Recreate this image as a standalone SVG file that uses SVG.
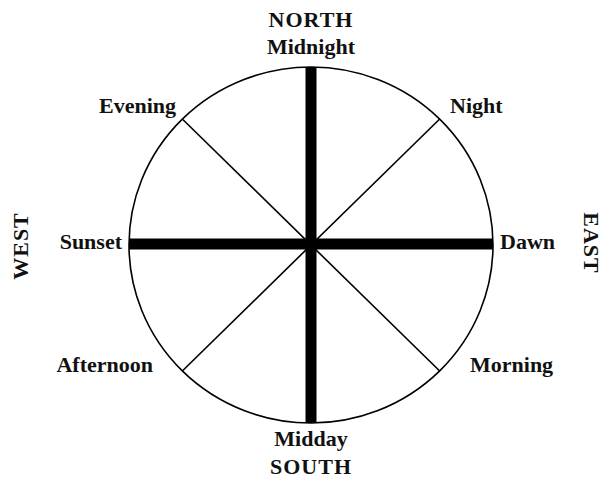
<svg xmlns="http://www.w3.org/2000/svg" width="604" height="480" viewBox="0 0 604 480">
<style>
text{font-family:"Liberation Serif","Times New Roman",serif;font-weight:bold;font-size:22px;fill:#111}
.thin{stroke:#000;stroke-width:1.6;fill:none}
.thick{stroke:#000;stroke-width:11;fill:none}
</style>
<rect width="604" height="480" fill="#fff"/>
<g id="wheel">
<ellipse class="thin" cx="311" cy="245" rx="182" ry="178"/>
</g>
<g id="connectors">
<line class="thin" x1="182.3" y1="119" x2="439.7" y2="371"/>
<line class="thin" x1="439.7" y1="119" x2="182.3" y2="371"/>
<line class="thick" x1="311" y1="67" x2="311" y2="423"/>
<line class="thick" x1="129" y1="244" x2="493" y2="244"/>
</g>
<g id="north"><text x="311" y="27" text-anchor="middle" letter-spacing="1">NORTH</text></g>
<g id="midnight"><text x="311" y="54" text-anchor="middle">Midnight</text></g>
<g id="night"><text x="450" y="113">Night</text></g>
<g id="evening"><text x="176" y="113" text-anchor="end">Evening</text></g>
<g id="sunset"><text x="122" y="249" text-anchor="end">Sunset</text></g>
<g id="dawn"><text x="500" y="249">Dawn</text></g>
<g id="afternoon"><text x="153" y="372" text-anchor="end">Afternoon</text></g>
<g id="morning"><text x="470" y="372">Morning</text></g>
<g id="midday"><text x="311" y="446" text-anchor="middle">Midday</text></g>
<g id="south"><text x="311" y="474" text-anchor="middle" letter-spacing="1">SOUTH</text></g>
<g id="west"><text transform="translate(28,246) rotate(-90)" text-anchor="middle" letter-spacing="1">WEST</text></g>
<g id="east"><text transform="translate(584,243) rotate(90)" text-anchor="middle" letter-spacing="1">EAST</text></g>
</svg>
